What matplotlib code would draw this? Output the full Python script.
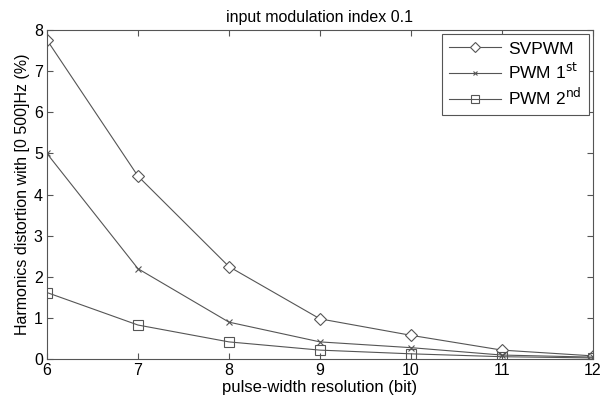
import matplotlib
matplotlib.use("Agg")
import matplotlib.pyplot as plt

plt.rcParams['font.family'] = ['Liberation Sans', 'DejaVu Sans']

bits = [6, 7, 8, 9, 10, 11, 12]
svpwm = [7.76, 4.45, 2.25, 0.98, 0.58, 0.22, 0.08]
pwm1 = [5.0, 2.2, 0.9, 0.42, 0.28, 0.10, 0.05]
pwm2 = [1.62, 0.83, 0.42, 0.22, 0.13, 0.06, 0.03]

fig = plt.figure(figsize=(6.02, 3.96), dpi=100)
ax = fig.add_axes([0.078, 0.093, 0.907, 0.831])

col = '#555555'
ax.plot(bits, svpwm, color=col, lw=0.8, marker='D', ms=6, mfc='white', mec=col, mew=0.8, label='SVPWM')
ax.plot(bits, pwm1, color=col, lw=0.8, marker='x', ms=4, mec=col, mew=0.8, label='PWM 1$^{\\mathrm{st}}$')
ax.plot(bits, pwm2, color=col, lw=0.8, marker='s', ms=7.5, mfc='none', mec=col, mew=0.8, label='PWM 2$^{\\mathrm{nd}}$')

ax.set_xlim(6, 12)
ax.set_ylim(0, 8)
ax.set_xticks(bits)
ax.set_yticks(range(0, 9))
ax.tick_params(direction='in', top=True, right=True, labelsize=11.5, length=4, color='#555555', pad=3)
for s in ax.spines.values():
    s.set_color('#555555')
    s.set_linewidth(0.8)

ax.set_title('input modulation index 0.1', fontsize=11.5, pad=6)
ax.set_xlabel('pulse-width resolution (bit)', fontsize=12, labelpad=1)
ax.set_ylabel('Harmonics distortion with [0 500]Hz (%)', fontsize=11.5, labelpad=3)

leg = ax.legend(loc='upper right', fontsize=12.5, fancybox=False, edgecolor='#555555',
                framealpha=1, borderpad=0.4, handlelength=3.0, labelspacing=0.3,
                handletextpad=0.4, borderaxespad=0.25, markerscale=0.85)
leg.get_frame().set_linewidth(0.8)

fig.savefig('out.png', dpi=100)
